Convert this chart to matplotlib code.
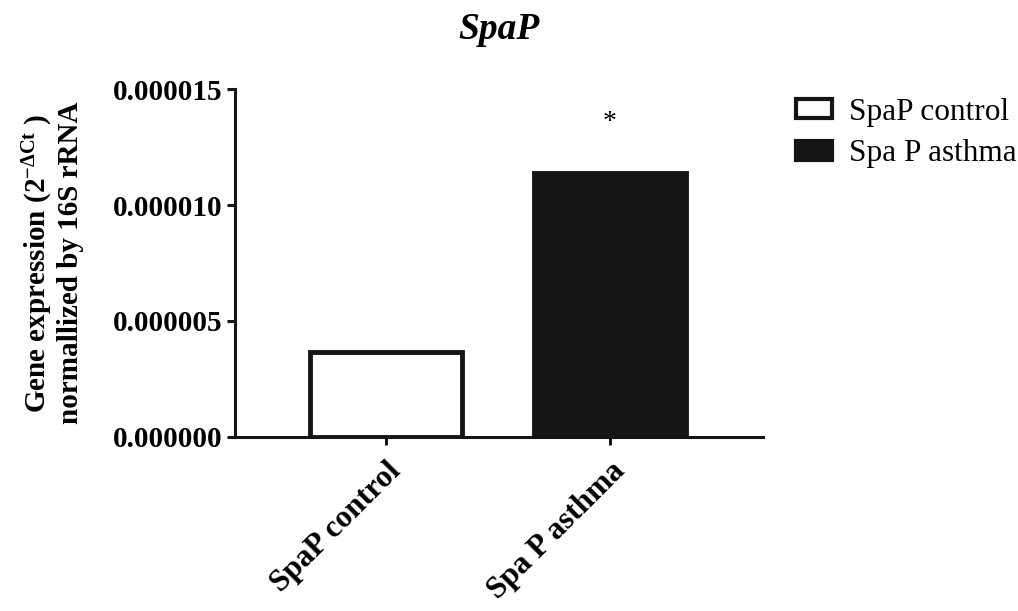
import matplotlib
matplotlib.use('Agg')
import matplotlib.pyplot as plt
import numpy as np

groups = ['SpaP control', 'Spa P asthma']
values = [3.66e-6, 11.38e-6]
fills = ['white', '#151515']
yticks = [0, 5e-6, 10e-6, 15e-6]
ytick_labels = ['0.000000', '0.000005', '0.000010', '0.000015']
star_text = '*'

plt.rcParams['font.family'] = ['Liberation Serif', 'DejaVu Serif']
plt.rcParams['mathtext.fontset'] = 'custom'
plt.rcParams['mathtext.rm'] = 'Liberation Serif'
plt.rcParams['mathtext.it'] = 'Liberation Serif:italic'
plt.rcParams['mathtext.bf'] = 'Liberation Serif:bold'

fig = plt.figure(figsize=(10.18, 6.11), dpi=100)
ax = fig.add_axes([0.2308, 0.2848, 0.5187, 0.5695])

x = np.arange(len(groups))
bars = ax.bar(x, values, width=0.68, color=fills, edgecolor='#151515',
              linewidth=3.5)

ax.set_xlim(-0.674, 1.683)
ax.set_ylim(0, 15e-6)
ax.set_yticks(yticks)
ax.set_yticklabels(ytick_labels, fontsize=21, fontweight='bold')
ax.set_xticks(x)
ax.set_xticklabels(groups, fontsize=22.5, fontweight='bold', rotation=45,
                   ha='right', rotation_mode='anchor')
for sp in ['top', 'right']:
    ax.spines[sp].set_visible(False)
for sp in ['left', 'bottom']:
    ax.spines[sp].set_linewidth(2.2)
    ax.spines[sp].set_color('#151515')
ax.tick_params(axis='both', width=2.2, length=6, color='#151515', pad=3)
ax.tick_params(axis='x', pad=8)

ax.set_ylabel('Gene expression (2$^{\\mathregular{-\\Delta Ct}}$ )\nnormallized by 16S rRNA',
              fontsize=21, fontweight='bold', labelpad=21, linespacing=1.1)

ax.set_title('SpaP', fontsize=27, fontweight='bold', fontstyle='italic', pad=36,
             x=0.5)

ax.text(x[1], 13.55e-6, star_text, ha='center', va='center', fontsize=20)

handles = [plt.Rectangle((0, 0), 1, 1, facecolor=fills[i], edgecolor='#151515',
                         linewidth=3.0) for i in range(len(groups))]
fig.legend(handles, groups, loc='upper left', bbox_to_anchor=(0.782, 0.84),
           frameon=False, fontsize=22.5, handlelength=1.15, handleheight=0.55,
           handletextpad=0.55, labelspacing=0.4, borderpad=0, borderaxespad=0)

fig.savefig('out.png', dpi=100, facecolor='white')
